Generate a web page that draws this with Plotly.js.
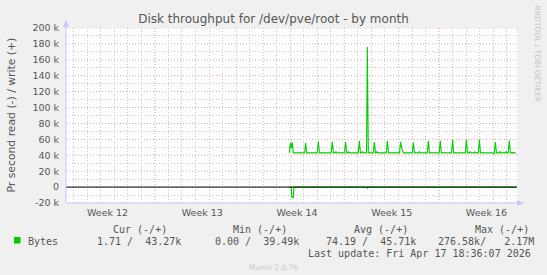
<!DOCTYPE html>
<html>
<head>
<meta charset="utf-8">
<script src="https://cdn.plot.ly/plotly-3.0.1.min.js"></script>
<style>html,body{margin:0;padding:0;background:#F0F0F0;}#chart{width:547px;height:275px;}</style>
</head>
<body>
<div id="chart"></div>
<script>
// ---- data (x in days since start of Week 12) ----
const weekLabels = ['Week 12', 'Week 13', 'Week 14', 'Week 15', 'Week 16'];
const weekCenters = [3.5, 10.5, 17.5, 24.5, 31.5];
const weekBounds = [7, 14, 21, 28];

const yTickVals = [200000, 180000, 160000, 140000, 120000, 100000, 80000, 60000, 40000, 20000, 0, -20000];
const yTickText = ['200 k', '180 k', '160 k', '140 k', '120 k', '100 k', '80 k', '60 k', '40 k', '20 k', '0', '-20 k'];
const yMinorVals = [190000, 170000, 150000, 130000, 110000, 90000, 70000, 50000, 30000, 10000, -10000];

// write (+) bytes per second
const writeT = [16.93, 17.01, 17.07, 17.14, 17.23,
  18.06, 18.14, 18.22,
  19.00, 19.08, 19.16,
  20.03, 20.11, 20.19, 20.32, 20.38, 20.44,
  21.01, 21.09, 21.17, 21.25, 21.31, 21.37,
  22.03, 22.11, 22.19, 22.28, 22.34, 22.40,
  22.64, 22.70, 22.77,
  23.14, 23.22, 23.30, 23.35, 23.41, 23.47,
  24.10, 24.18, 24.26,
  25.08, 25.15, 25.22, 25.37,
  26.02, 26.10, 26.18, 26.48, 26.54, 26.60,
  27.13, 27.21, 27.29,
  28.01, 28.09, 28.17,
  28.92, 29.00, 29.08,
  29.94, 30.02, 30.10, 30.24, 30.30, 30.36, 30.60, 30.66, 30.72,
  30.90, 30.98, 31.06,
  31.95, 32.08, 32.16, 32.24, 32.44, 32.50, 32.56, 32.89, 32.95, 33.01,
  33.11, 33.19, 33.27, 33.50, 33.69];
const writeV = [43000, 55500, 49000, 56600, 43000,
  43000, 55300, 43000,
  43000, 57000, 43000,
  43000, 57000, 43000, 43000, 44500, 43000,
  43000, 56600, 43000, 43000, 44500, 43000,
  43000, 58200, 43000, 43000, 44500, 43000,
  43000, 176000, 43000,
  43000, 56600, 43000, 43000, 44500, 43000,
  43000, 58200, 43000,
  43000, 57000, 50000, 43000,
  43000, 56100, 43000, 43000, 44800, 43000,
  43000, 58200, 43000,
  43000, 58200, 43000,
  43000, 59500, 43000,
  43000, 59500, 43000, 43000, 44500, 43000, 43000, 44300, 43000,
  43000, 59500, 43000,
  43000, 42000, 56600, 43000, 43000, 44500, 43000, 43000, 44800, 43000,
  43000, 58500, 43000, 43300, 42500];

// read (-) bytes per second (drawn below zero)
const readT = [16.93, 17.07, 17.13, 17.22, 17.28, 22.66, 22.71, 22.76, 33.69];
const readV = [0, 0, 13000, 13000, 0, 0, 1300, 0, 0];

// legend texts
const legendName = 'Bytes';
const legendHeaders = ['Cur (-/+)', 'Min (-/+)', 'Avg (-/+)', 'Max (-/+)'];
const legendValues = ['1.71 /  43.27k', '0.00 /  39.49k', '74.19 /  45.71k', '276.58k/   2.17M'];
const lastUpdate = 'Last update: Fri Apr 17 18:36:07 2026';
const titleText = 'Disk throughput for /dev/pve/root - by month';
const yTitle = 'Pr second read (-) / write (+)';
const sideText = 'RRDTOOL / TOBI OETIKER';
const footer = 'Munin 2.0.76';

// ---- layout helpers (pixel -> paper) ----
const L = 66, R = 517, T = 28, B = 203;
const PX = x => (x - L) / (R - L);
const PY = y => (B - y) / (B - T);
const nb = s => s.replace(/ /g, '\u00A0');

const green = '#00CC00';
const txt = '#555555';
const mono = 'DejaVu Sans Mono, monospace';
const sans = 'DejaVu Sans, sans-serif';
const axisCol = 'rgb(196,200,255)';
const redGrid = 'rgb(238,160,160)';
const grayGrid = 'rgb(200,200,200)';
const dots = '1px,2px';

const traces = [
  { x: readT, y: readV.map(v => -v), type: 'scatter', mode: 'lines',
    line: { color: green, width: 1.1 }, hoverinfo: 'skip' },
  { x: writeT, y: writeV, type: 'scatter', mode: 'lines',
    line: { color: green, width: 1.1 }, hoverinfo: 'skip' }
];

const shapes = [];
weekBounds.forEach(w => shapes.push({ type: 'line', xref: 'x', yref: 'paper', x0: w, x1: w, y0: 0, y1: 1,
  layer: 'between', line: { color: redGrid, width: 1, dash: dots } }));
yTickVals.forEach(v => shapes.push({ type: 'line', xref: 'paper', yref: 'y', x0: 0, x1: 1, y0: v, y1: v,
  layer: 'between', line: { color: redGrid, width: 1, dash: dots } }));
// zero rule
shapes.push({ type: 'line', xref: 'paper', yref: 'y', x0: 0, x1: 1, y0: 0, y1: 0, layer: 'above',
  line: { color: '#000000', width: 1 } });
// axes with arrows
shapes.push({ type: 'line', xref: 'paper', yref: 'paper', x0: 0, x1: 0, y0: 0, y1: PY(24), line: { color: axisCol, width: 1 } });
shapes.push({ type: 'line', xref: 'paper', yref: 'paper', x0: 0, x1: PX(519), y0: 0, y1: 0, line: { color: axisCol, width: 1 } });
shapes.push({ type: 'path', xref: 'paper', yref: 'paper', fillcolor: axisCol, line: { width: 0 },
  path: `M ${PX(63)} ${PY(27)} L ${PX(69)} ${PY(27)} L ${PX(66)} ${PY(20)} Z` });
shapes.push({ type: 'path', xref: 'paper', yref: 'paper', fillcolor: axisCol, line: { width: 0 },
  path: `M ${PX(517)} ${PY(200)} L ${PX(517)} ${PY(206)} L ${PX(524)} ${PY(203)} Z` });
// legend swatch
shapes.push({ type: 'rect', xref: 'paper', yref: 'paper', x0: PX(14), x1: PX(20.5), y0: PY(243.5), y1: PY(237),
  fillcolor: green, line: { width: 0 } });

const ann = [];
const addText = (text, x, y, anchor, font, extra) => ann.push(Object.assign({
  text: nb(text), xref: 'paper', yref: 'paper', x: PX(x), y: PY(y), xanchor: anchor, yanchor: 'middle',
  showarrow: false, font: font }, extra || {}));

addText(yTitle, 11, 115.5, 'center', { family: sans, size: 10.8, color: txt }, { textangle: -90 });
addText(sideText, 537, 53.5, 'center', { family: sans, size: 7.5, color: 'rgb(195,195,195)' }, { textangle: 90 });
addText(footer, 273, 267.5, 'center', { family: sans, size: 7.5, color: 'rgb(200,200,200)' });

const headerX = [111, 231, 352, 472.6];
const valueX = [95, 213, 324, 436];
const monoFont = { family: mono, size: 10, color: txt };
legendHeaders.forEach((h, i) => addText(h, headerX[i], 229, 'left', monoFont));
addText(legendName, 26, 241, 'left', monoFont);
legendValues.forEach((v, i) => addText(v, valueX[i], 241, 'left', monoFont));
addText(lastUpdate, 532.6, 253.6, 'right', monoFont);

const layout = {
  width: 547, height: 275,
  paper_bgcolor: '#F0F0F0', plot_bgcolor: '#FFFFFF',
  margin: { l: L, r: 547 - R, t: T, b: 275 - B, pad: 0 },
  showlegend: false,
  title: { text: titleText, x: 0.5, xref: 'container', xanchor: 'center',
    y: 1 - 19 / 275, yref: 'container', yanchor: 'middle',
    font: { family: sans, size: 12, color: txt } },
  xaxis: {
    range: [0.43, 33.76], fixedrange: true,
    tickmode: 'array', tickvals: weekCenters, ticktext: weekLabels,
    showgrid: false, zeroline: false, showline: false,
    ticks: 'outside', ticklen: 1, tickcolor: 'rgba(0,0,0,0)',
    tickfont: { family: sans, size: 9.5, color: txt },
    minor: { tickmode: 'linear', tick0: 0, dtick: 1, showgrid: true,
      gridcolor: grayGrid, griddash: dots, gridwidth: 1, ticks: '' }
  },
  yaxis: {
    range: [-20000, 200000], fixedrange: true,
    tickmode: 'array', tickvals: yTickVals, ticktext: yTickText,
    showgrid: false, zeroline: false, showline: false,
    ticks: 'outside', ticklen: 4, tickcolor: 'rgba(0,0,0,0)',
    tickfont: { family: sans, size: 9.5, color: txt },
    minor: { tickmode: 'array', tickvals: yMinorVals, showgrid: true,
      gridcolor: grayGrid, griddash: dots, gridwidth: 1, ticks: '' }
  },
  shapes: shapes,
  annotations: ann
};

Plotly.newPlot('chart', traces, layout, { displayModeBar: false, staticPlot: true });
</script>
</body>
</html>
